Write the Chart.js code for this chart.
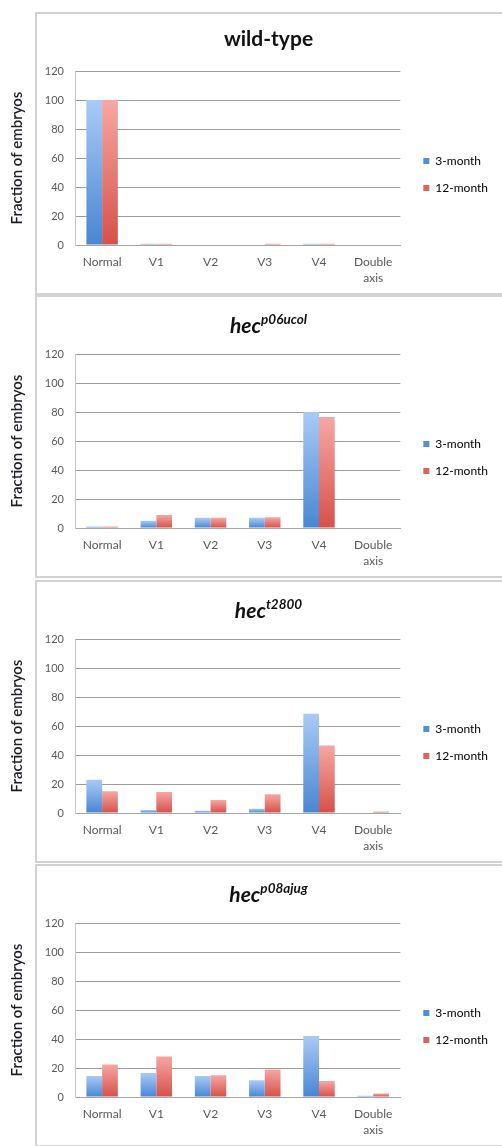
<!DOCTYPE html>
<html>
<head>
<meta charset="utf-8">
<script src="https://cdn.jsdelivr.net/npm/chart.js@4/dist/chart.umd.min.js"></script>
<style>
  html, body { margin: 0; padding: 0; background: #fff; }
  body { width: 502px; height: 1146px; position: relative; overflow: hidden; font-family: Lato, "Open Sans", sans-serif; }
  .panel { position: absolute; left: 0; width: 502px; height: 282px; }
  .box { position: absolute; left: 35px; top: 0; width: 490px; height: 279px; border: 2px solid #d2d2d2; }
  .panel canvas { position: absolute; left: 0; top: 0; }
  .title { position: absolute; left: 35px; width: 467px; text-align: center; font-size: 21px; font-weight: bold; color: #111; line-height: 24px; }
  .title i sup { font-size: 13.5px; position: relative; top: -1px; }
</style>
</head>
<body>
<script>
// categories + series
const categories = ['Normal', 'V1', 'V2', 'V3', 'V4', ['Double', 'axis']];
const seriesNames = ['3-month', '12-month'];
const yTicks = [0, 20, 40, 60, 80, 100, 120];

const panelNames = ['wild-type', 'hec', 'hec', 'hec'];
const panelSup = ['', 'p06ucol', 't2800', 'p08ajug'];

const wildType3 = [100, 0.8, 0, 0, 0.8, 0];
const wildType12 = [100, 0.8, 0, 0.8, 0.8, 0];
const p06ucol3 = [1, 5, 7, 7, 80, 0];
const p06ucol12 = [1, 9, 7, 7.5, 76.5, 0];
const t2800_3 = [23, 2, 1.5, 3, 68.5, 0];
const t2800_12 = [15, 14.5, 9, 13, 46.5, 1];
const p08ajug3 = [14.5, 16.5, 14.5, 11.5, 42, 0.8];
const p08ajug12 = [22.5, 28, 15, 19, 11, 2.5];

const values3 = [wildType3, p06ucol3, t2800_3, p08ajug3];
const values12 = [wildType12, p06ucol12, t2800_12, p08ajug12];

const panelTops = [12, 295, 580, 864];
const titleTops = [14, 13, 13, 13];

Chart.defaults.font.family = 'Lato, "Open Sans", sans-serif';
Chart.defaults.color = '#595959';

function barFill(light, dark) {
  return function (ctx) {
    const chart = ctx.chart;
    const y = chart.scales.y;
    if (!chart.chartArea || !y || ctx.parsed == null) return dark;
    const top = y.getPixelForValue(ctx.parsed.y);
    const bottom = y.getPixelForValue(0);
    if (!(bottom - top > 1)) return dark;
    const g = chart.ctx.createLinearGradient(0, top, 0, bottom);
    g.addColorStop(0, light);
    g.addColorStop(1, dark);
    return g;
  };
}

// nudge the legend a bit right and up from where the layout puts it
const legendNudge = {
  id: 'legendNudge',
  afterLayout(chart) {
    const lg = chart.legend;
    if (!lg) return;
    lg.left += 8; lg.right += 8;
    lg.top -= 8; lg.bottom -= 8;
  }
};

for (let i = 0; i < 4; i++) {
  const panel = document.createElement('div');
  panel.className = 'panel';
  panel.style.top = panelTops[i] + 'px';
  panel.innerHTML = '<div class="box"></div><canvas width="502" height="282"></canvas>';
  const title = document.createElement('div');
  title.className = 'title';
  title.style.top = titleTops[i] + 'px';
  if (panelSup[i]) {
    title.innerHTML = '<i>' + panelNames[i] + '<sup>' + panelSup[i] + '</sup></i>';
  } else {
    title.textContent = panelNames[i];
  }
  panel.appendChild(title);
  document.body.appendChild(panel);

  new Chart(panel.querySelector('canvas'), {
    type: 'bar',
    data: {
      labels: categories,
      datasets: [{
        label: seriesNames[0],
        data: values3[i],
        backgroundColor: barFill('#a9cbf6', '#4886d3')
      }, {
        label: seriesNames[1],
        data: values12[i],
        backgroundColor: barFill('#f7a7a3', '#d5514a')
      }]
    },
    plugins: [legendNudge],
    options: {
      responsive: false,
      animation: false,
      layout: { padding: { top: 59, right: 12, left: 0, bottom: 0 } },
      datasets: { bar: { categoryPercentage: 0.58, barPercentage: 1 } },
      plugins: {
        tooltip: { enabled: false },
        legend: {
          position: 'right',
          labels: {
            boxWidth: 6, boxHeight: 6, padding: 15,
            color: '#595959',
            font: { size: 12 },
            generateLabels(chart) {
              const cols = ['#4f8fdb', '#e0625c'];
              return chart.data.datasets.map((d, k) => ({
                text: d.label, fillStyle: cols[k], strokeStyle: cols[k], lineWidth: 0, datasetIndex: k
              }));
            }
          }
        }
      },
      scales: {
        x: {
          grid: { display: false, drawTicks: false },
          border: { color: '#a6a6a6', width: 1 },
          ticks: { padding: 9, font: { size: 12, lineHeight: 1.35 }, maxRotation: 0, autoSkip: false },
          afterFit(s) { s.height = 49; }
        },
        y: {
          min: 0, max: 120,
          afterBuildTicks(s) { s.ticks = yTicks.map(v => ({ value: v })); },
          grid: { color: '#9c9c9c', drawTicks: false },
          border: { color: '#c8c8c8', width: 1 },
          ticks: { padding: 11, font: { size: 11 } },
          title: {
            display: true, text: 'Fraction of embryos',
            color: '#1c1c24', font: { size: 15, weight: '600' },
            padding: { top: 8, bottom: 0 }
          },
          afterFit(s) { s.width = 75; }
        }
      }
    }
  });
}
</script>
</body>
</html>
